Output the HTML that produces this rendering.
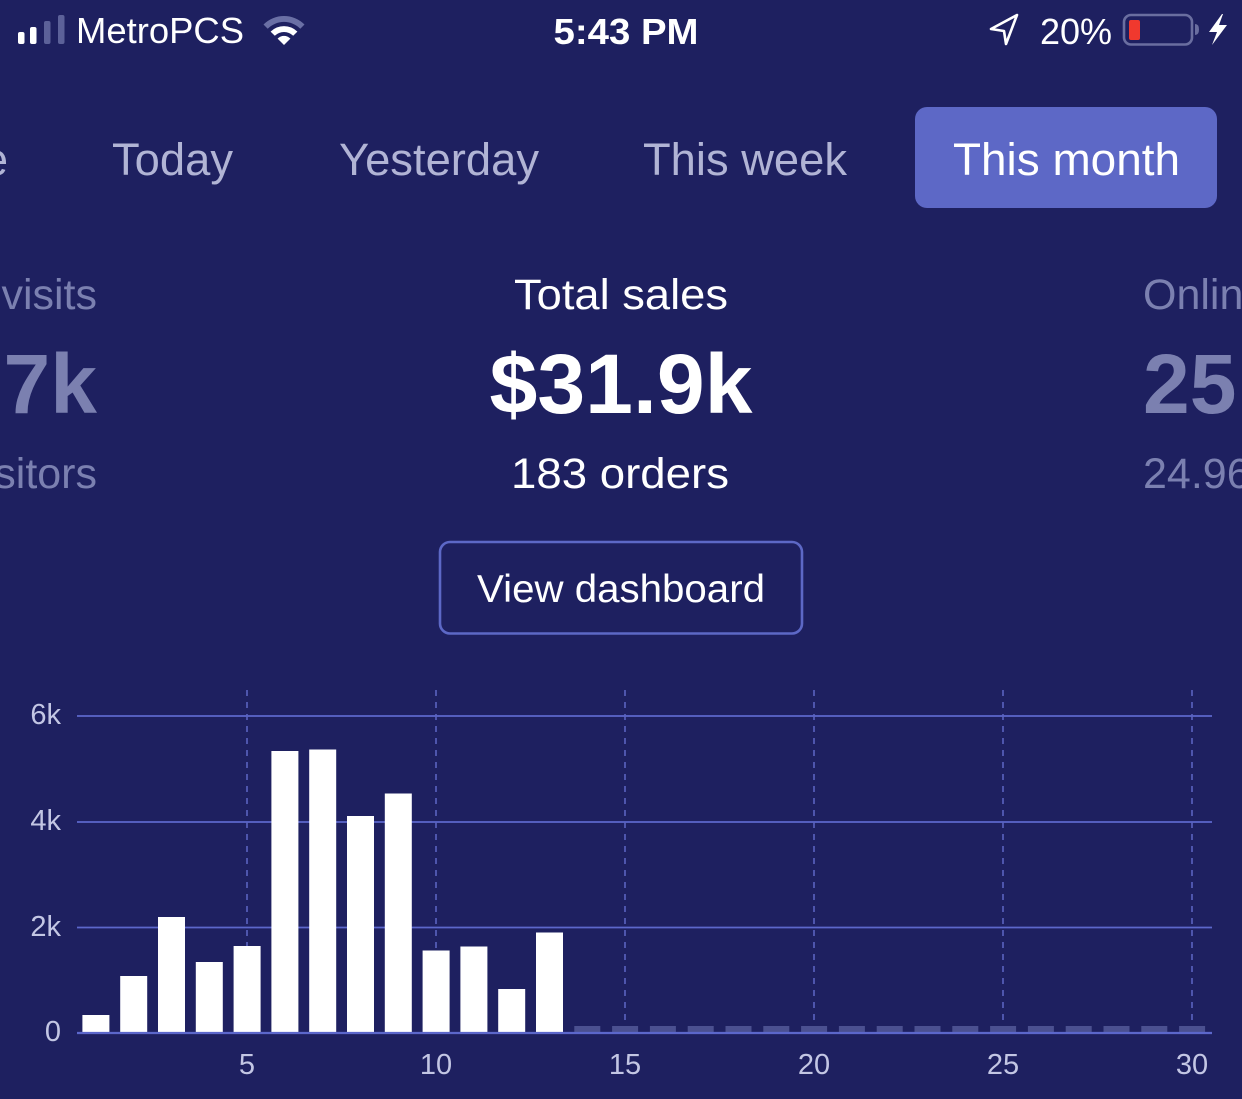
<!DOCTYPE html>
<html>
<head>
<meta charset="utf-8">
<style>
  html, body { margin:0; padding:0; background:#1e2060; }
  body { width:1242px; height:1099px; overflow:hidden; }
  svg { display:block; }
  text { font-family: "Liberation Sans", Arial, sans-serif; }
</style>
</head>
<body>
<svg width="1242" height="1099" viewBox="0 0 1242 1099" xmlns="http://www.w3.org/2000/svg">
  <rect x="0" y="0" width="1242" height="1099" fill="#1e2060"/>

  <!-- Status bar -->
  <rect x="18" y="32" width="6.5" height="12" rx="2" fill="#ffffff"/>
  <rect x="30" y="27" width="6.5" height="17" rx="2" fill="#ffffff"/>
  <rect x="44" y="21" width="6.5" height="23" rx="2" fill="#5c6199"/>
  <rect x="58" y="15" width="6.5" height="29" rx="2" fill="#5c6199"/>
  <text x="76" y="43" font-size="36" fill="#ffffff" textLength="168" lengthAdjust="spacingAndGlyphs">MetroPCS</text>
  <!-- wifi -->
  <g transform="translate(284,45)">
    <path d="M -20.5 -20.5 A 29 29 0 0 1 20.5 -20.5 L 16.3 -16.3 A 23 23 0 0 0 -16.3 -16.3 Z" fill="#6a6fa5"/>
    <path d="M -13.4 -13.4 A 19 19 0 0 1 13.4 -13.4 L 9.2 -9.2 A 13 13 0 0 0 -9.2 -9.2 Z" fill="#ffffff"/>
    <path d="M 0 0 L -6.4 -6.4 A 9 9 0 0 1 6.4 -6.4 Z" fill="#ffffff"/>
  </g>
  <text x="626" y="44" font-size="36" font-weight="bold" fill="#ffffff" text-anchor="middle" textLength="145" lengthAdjust="spacingAndGlyphs">5:43 PM</text>
  <!-- location arrow -->
  <path d="M1017 15 L991 29 L1004 31 L1006 44 Z" fill="none" stroke="#ffffff" stroke-width="2.6" stroke-linejoin="round"/>
  <text x="1040" y="44" font-size="36" fill="#ffffff">20%</text>
  <!-- battery -->
  <rect x="1124" y="15" width="68" height="29.5" rx="7" fill="none" stroke="#6a6ea0" stroke-width="2.6"/>
  <rect x="1129" y="20" width="11" height="20" rx="2" fill="#f0392e"/>
  <path d="M1195 24 Q1199 24 1199 29.5 Q1199 35 1195 35 Z" fill="#6a6ea0"/>
  <!-- lightning -->
  <path d="M1222 14 L1209 32 L1217 32 L1212 45 L1227 25 L1219 25 L1223 14 Z" fill="#ffffff"/>

  <!-- Tabs -->
  <text x="8" y="175" font-size="45" fill="#b1b4d5" text-anchor="end">Live</text>
  <text x="112" y="175" font-size="45" fill="#b1b4d5" textLength="121" lengthAdjust="spacingAndGlyphs">Today</text>
  <text x="339" y="175" font-size="45" fill="#b1b4d5" textLength="200" lengthAdjust="spacingAndGlyphs">Yesterday</text>
  <text x="643" y="175" font-size="45" fill="#b1b4d5" textLength="204" lengthAdjust="spacingAndGlyphs">This week</text>
  <rect x="915" y="107" width="302" height="101" rx="12" fill="#5d68c6"/>
  <text x="953" y="175" font-size="45" fill="#ffffff" textLength="227" lengthAdjust="spacingAndGlyphs">This month</text>

  <!-- Stats -->
  <text x="97" y="309" font-size="43" fill="#7b80b0" text-anchor="end">Store visits</text>
  <text x="621" y="309" font-size="43" fill="#ffffff" text-anchor="middle" textLength="214" lengthAdjust="spacingAndGlyphs">Total sales</text>
  <text x="1143" y="309" font-size="43" fill="#7b80b0">Online store</text>

  <text x="97" y="413" font-size="84" font-weight="bold" fill="#7b80b0" text-anchor="end">5.7k</text>
  <text x="621" y="413" font-size="84" font-weight="bold" fill="#ffffff" text-anchor="middle" textLength="263" lengthAdjust="spacingAndGlyphs">$31.9k</text>
  <text x="1143" y="413" font-size="84" font-weight="bold" fill="#7b80b0">25.1%</text>

  <text x="97" y="488" font-size="43" fill="#7b80b0" text-anchor="end">4,321 visitors</text>
  <text x="620" y="488" font-size="43" fill="#ffffff" text-anchor="middle" textLength="218" lengthAdjust="spacingAndGlyphs">183 orders</text>
  <text x="1143" y="488" font-size="43" fill="#7b80b0">24.96%</text>

  <!-- Button -->
  <rect x="440" y="542" width="362" height="91.5" rx="10" fill="none" stroke="#5d68c6" stroke-width="2.6"/>
  <text x="621" y="602" font-size="39" fill="#ffffff" text-anchor="middle" textLength="288" lengthAdjust="spacingAndGlyphs">View dashboard</text>

  <!-- Chart grid -->
  <g stroke="#5c67cb" stroke-width="1.8">
    <line x1="77" y1="716" x2="1212" y2="716"/>
    <line x1="77" y1="822" x2="1212" y2="822"/>
    <line x1="77" y1="927.5" x2="1212" y2="927.5"/>
  </g>
  <g stroke="#5a63c0" stroke-width="1.6" stroke-dasharray="6 6">
    <line x1="247" y1="690" x2="247" y2="1031"/>
    <line x1="436" y1="690" x2="436" y2="1031"/>
    <line x1="625" y1="690" x2="625" y2="1031"/>
    <line x1="814" y1="690" x2="814" y2="1031"/>
    <line x1="1003" y1="690" x2="1003" y2="1031"/>
    <line x1="1192" y1="690" x2="1192" y2="1031"/>
  </g>

  <!-- Bars -->
  <g fill="#ffffff">
    <rect x="82.4" y="1015" width="27" height="17.5"/>
    <rect x="120.2" y="976" width="27" height="56.5"/>
    <rect x="158" y="917" width="27" height="115.5"/>
    <rect x="195.8" y="962" width="27" height="70.5"/>
    <rect x="233.6" y="946" width="27" height="86.5"/>
    <rect x="271.4" y="751" width="27" height="281.5"/>
    <rect x="309.2" y="749.5" width="27" height="283"/>
    <rect x="347" y="816" width="27" height="216.5"/>
    <rect x="384.8" y="793.5" width="27" height="239"/>
    <rect x="422.6" y="950.5" width="27" height="82"/>
    <rect x="460.4" y="946.5" width="27" height="86"/>
    <rect x="498.2" y="989" width="27" height="43.5"/>
    <rect x="536" y="932.5" width="27" height="100"/>
  </g>
  <!-- Empty stubs -->
  <g fill="#4b5090">
    <rect x="574.3" y="1026" width="26" height="6"/>
    <rect x="612.1" y="1026" width="26" height="6"/>
    <rect x="649.9" y="1026" width="26" height="6"/>
    <rect x="687.7" y="1026" width="26" height="6"/>
    <rect x="725.5" y="1026" width="26" height="6"/>
    <rect x="763.3" y="1026" width="26" height="6"/>
    <rect x="801.1" y="1026" width="26" height="6"/>
    <rect x="838.9" y="1026" width="26" height="6"/>
    <rect x="876.7" y="1026" width="26" height="6"/>
    <rect x="914.5" y="1026" width="26" height="6"/>
    <rect x="952.3" y="1026" width="26" height="6"/>
    <rect x="990.1" y="1026" width="26" height="6"/>
    <rect x="1027.9" y="1026" width="26" height="6"/>
    <rect x="1065.7" y="1026" width="26" height="6"/>
    <rect x="1103.5" y="1026" width="26" height="6"/>
    <rect x="1141.3" y="1026" width="26" height="6"/>
    <rect x="1179.1" y="1026" width="26" height="6"/>
  </g>
  <line x1="77" y1="1033" x2="1212" y2="1033" stroke="#5c67cb" stroke-width="2.2"/>

  <!-- Y labels -->
  <g font-size="29" fill="#c3c6e4" text-anchor="end">
    <text x="61" y="724">6k</text>
    <text x="61" y="830">4k</text>
    <text x="61" y="936">2k</text>
    <text x="61" y="1041">0</text>
  </g>
  <!-- X labels -->
  <g font-size="29" fill="#c3c6e4" text-anchor="middle">
    <text x="247" y="1074">5</text>
    <text x="436" y="1074">10</text>
    <text x="625" y="1074">15</text>
    <text x="814" y="1074">20</text>
    <text x="1003" y="1074">25</text>
    <text x="1192" y="1074">30</text>
  </g>
</svg>
</body>
</html>
